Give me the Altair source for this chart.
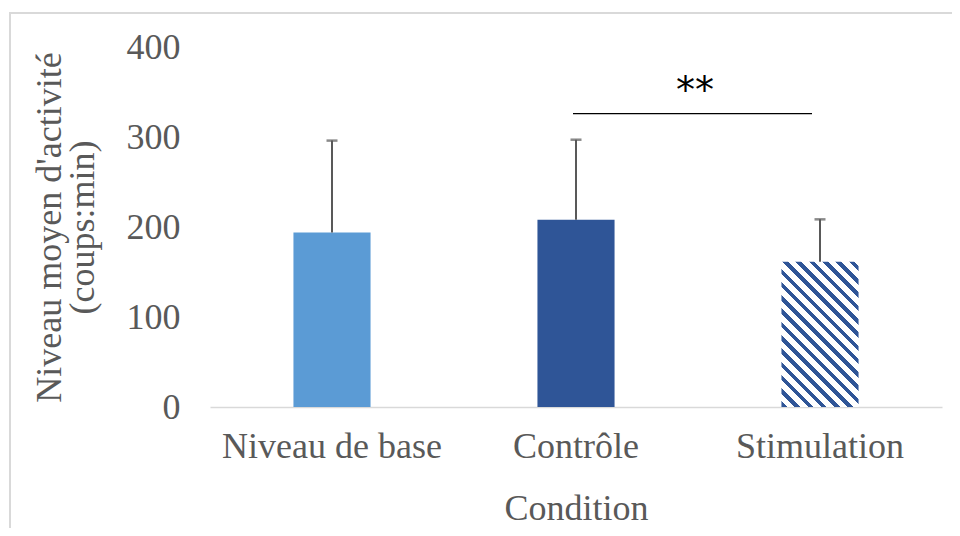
import altair as alt
import pandas as pd
import math

# ---- data ----
conditions = ["Niveau de base", "Contrôle", "Stimulation"]
means = [194, 208, 161.5]
sds = [102, 89, 47]
sig_from = ["Contrôle"]
sig_to = ["Stimulation"]
sig_y = [326]
sig_label = ["**"]
sig_label_y = [338]
y_ticks = [0, 100, 200, 300, 400]

# ---- style / geometry ----
FONT = "Liberation Serif"
FS = 36
TXT = "#595959"
W, H = 732, 360
P_IN = 0.684
colors = ["#5B9BD5", "#2F5597"]
HATCH = "#2F5597"

df = pd.DataFrame({"Condition": conditions, "mean": means, "sd": sds})
df["upper"] = df["mean"] + df["sd"]

# hatched gradient for the Stimulation bar (stripes at 45 degrees)
step = W / 3
bw = step * (1 - P_IN)
bh = means[2] * H / 400
s = (bw + bh) / (bw ** 2 + bh ** 2)
x2g, y2g = s * bw, 1 - s * bh
span = (bw + bh) / math.sqrt(2)
period = 9.4
N = span / period
stops = []
k = 0
while k / N < 1:
    a = k / N
    b = min((k + 0.42) / N, 1)
    c = min((k + 1) / N, 1)
    stops += [
        alt.GradientStop(offset=a, color=HATCH),
        alt.GradientStop(offset=b, color=HATCH),
        alt.GradientStop(offset=b, color="white"),
        alt.GradientStop(offset=c, color="white"),
    ]
    k += 1
hatch = alt.LinearGradient(gradient="linear", x1=0, y1=1, x2=x2g, y2=y2g, stops=stops)

xscale = alt.Scale(domain=conditions, paddingInner=P_IN, paddingOuter=P_IN / 2)
yscale = alt.Scale(domain=[0, 400], nice=False)

xenc = alt.X(
    "Condition:N",
    scale=xscale,
    sort=conditions,
    axis=alt.Axis(
        title="Condition",
        labelAngle=0,
        labelLimit=0,
        ticks=False,
        domainColor="#D9D9D9",
        domainWidth=1.5,
        labelFont=FONT,
        labelFontSize=FS,
        labelColor=TXT,
        labelPadding=22,
        titleFont=FONT,
        titleFontSize=FS,
        titleColor=TXT,
        titleFontWeight="normal",
        titlePadding=27,
    ),
)
yenc = alt.Y(
    "mean:Q",
    scale=yscale,
    axis=alt.Axis(
        values=y_ticks,
        title=["Niveau moyen d'activité", "(coups:min)"],
        grid=False,
        domain=False,
        ticks=False,
        labelFont=FONT,
        labelFontSize=FS,
        labelColor=TXT,
        labelPadding=30,
        titleFont=FONT,
        titleFontSize=FS,
        titleColor=TXT,
        titleFontWeight="normal",
        titleLineHeight=33,
        titleAngle=-90,
        titleAlign="center",
        titleBaseline="middle",
        titleX=-161,
        titleY=H / 2,
    ),
)

base = alt.Chart(df)

solid = base.transform_filter(alt.datum.Condition != "Stimulation").mark_bar().encode(
    x=xenc,
    y=yenc,
    color=alt.Color("Condition:N", scale=alt.Scale(domain=conditions[:2], range=colors), legend=None),
)
hatched = base.transform_filter(alt.datum.Condition == "Stimulation").mark_bar(fill=hatch).encode(
    x=alt.X("Condition:N", scale=xscale, sort=conditions),
    y=alt.Y("mean:Q", scale=yscale),
)
err = base.mark_rule(color="#595959", strokeWidth=2).encode(
    x=alt.X("Condition:N", scale=xscale, sort=conditions),
    y=alt.Y("mean:Q", scale=yscale),
    y2="upper:Q",
)
caps = base.mark_tick(color="#595959", thickness=2.5, size=11).encode(
    x=alt.X("Condition:N", scale=xscale, sort=conditions),
    y=alt.Y("upper:Q", scale=yscale),
)

sig_df = pd.DataFrame({"a": sig_from, "b": sig_to, "y": sig_y, "lab": sig_label, "ly": sig_label_y})
sig_line = alt.Chart(sig_df).mark_rule(color="#000000", strokeWidth=1.3, xOffset=-3, x2Offset=-8).encode(
    x=alt.X("a:N", scale=xscale),
    x2="b:N",
    y=alt.Y("y:Q", scale=yscale),
)
sig_text = alt.Chart(sig_df).mark_text(
    font="DejaVu Sans", fontSize=38, color="#000000", baseline="alphabetic", xOffset=119
).encode(
    x=alt.X("a:N", scale=xscale),
    y=alt.Y("ly:Q", scale=yscale),
    text="lab:N",
)

frame = alt.Chart(sig_df).mark_rect(fill=None, stroke="#D9D9D9", strokeWidth=2).encode(
    x=alt.value(-200), x2=alt.value(780), y=alt.value(-34), y2=alt.value(520)
)

chart = (
    alt.layer(frame, solid, hatched, err, caps, sig_line, sig_text)
    .properties(
        width=W,
        height=H,
        autosize=alt.AutoSizeParams(type="none"),
        padding={"left": 202, "top": 39, "right": 10, "bottom": 121},
    )
    .configure_view(stroke=None)
)

chart.save("out.html", embed_options={"renderer": "svg", "actions": False})
